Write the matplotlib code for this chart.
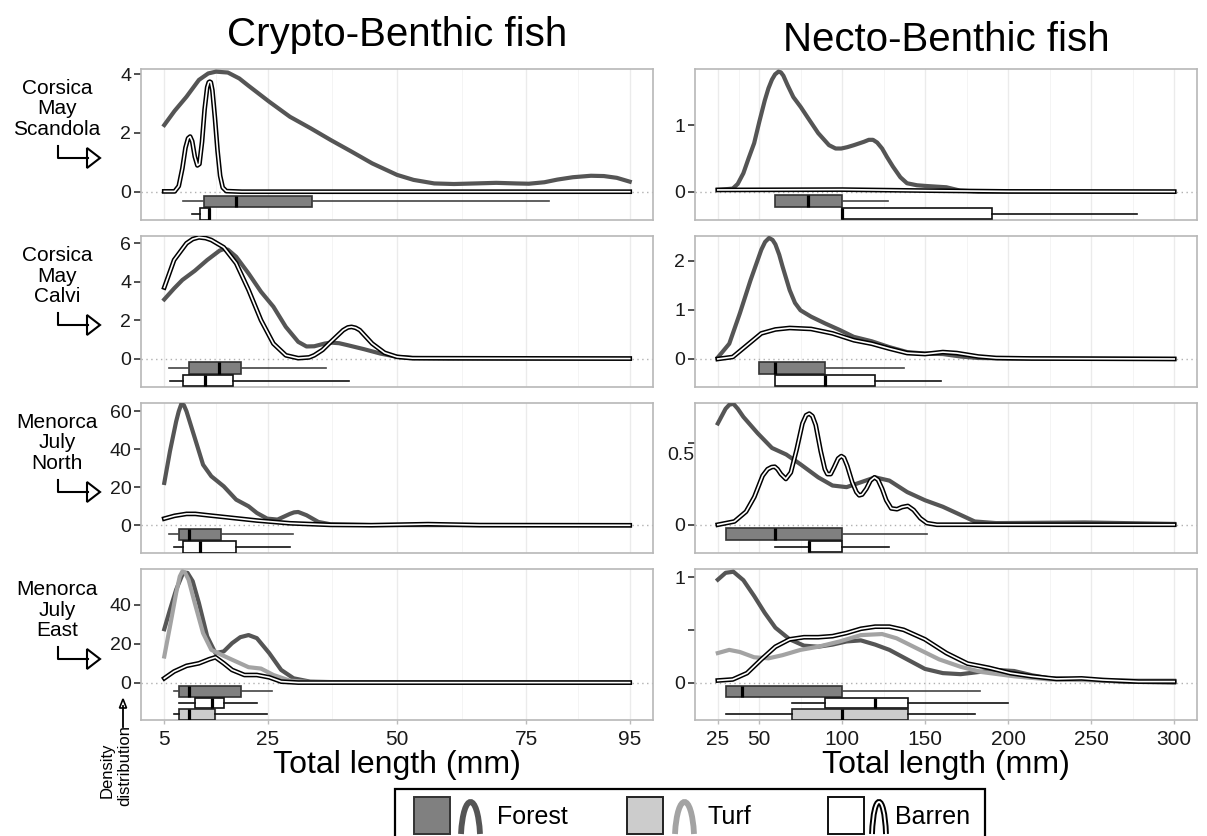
import matplotlib.pyplot as plt
from matplotlib.patches import Rectangle, Polygon, PathPatch
from matplotlib.path import Path
from matplotlib.lines import Line2D

plt.rcParams['font.family'] = ['Liberation Sans', 'DejaVu Sans']

# ---- data: (total length mm, density) ----
# Corsica May Scandola
scandola_cb_forest = [(5, 2.27), (7, 2.75), (9.3, 3.23), (11.7, 3.8), (13.5, 4.02), (15, 4.08), (17.3, 4.05),
                      (19.5, 3.85), (21.3, 3.6), (25.3, 3.06), (29.3, 2.55), (33.3, 2.16), (37.2, 1.76),
                      (41.2, 1.37), (45.2, 0.97), (50, 0.58), (53.2, 0.41), (57.2, 0.29), (61, 0.27),
                      (65.2, 0.29), (69.2, 0.31), (73, 0.29), (75.5, 0.28), (78.5, 0.33), (81, 0.42),
                      (84, 0.5), (87.5, 0.55), (90, 0.54), (92.5, 0.48), (95, 0.35)]
scandola_cb_barren = [(5, 0.02), (7, 0.02), (7.8, 0.2), (8.5, 0.8), (9.1, 1.5), (9.6, 1.82), (10, 1.88),
                      (10.4, 1.72), (10.9, 1.2), (11.4, 0.9), (11.8, 0.95), (12.3, 1.7), (12.8, 2.8),
                      (13.3, 3.55), (13.6, 3.72), (13.8, 3.74), (14.0, 3.72), (14.3, 3.45), (14.8, 2.5),
                      (15.3, 1.4), (15.8, 0.55), (16.3, 0.15), (17, 0.03), (20, 0.01), (95, 0.01)]
scandola_nb_forest = [(25, 0.03), (34, 0.05), (37, 0.12), (40.4, 0.28), (43.5, 0.5), (46.9, 0.73), (50, 1.05),
                      (53.3, 1.37), (55.5, 1.55), (57.6, 1.68), (59.5, 1.76), (61.5, 1.8), (63, 1.79),
                      (64.5, 1.74), (67, 1.6), (70.5, 1.42), (75, 1.27), (79, 1.12), (85.5, 0.88),
                      (92, 0.7), (96, 0.65), (99.4, 0.65), (103, 0.67), (107, 0.7), (113, 0.75),
                      (116, 0.78), (118.5, 0.78), (121, 0.74), (124, 0.65), (127, 0.52), (130.5, 0.38),
                      (135, 0.22), (139, 0.13), (145, 0.1), (150, 0.09), (162.7, 0.07), (171, 0.02),
                      (182, 0.005), (300, 0)]
scandola_nb_barren = [(25, 0.03), (100, 0.035), (150, 0.02), (200, 0.008), (300, 0.005)]

# Corsica May Calvi
calvi_cb_forest = [(5, 3.08), (6.9, 3.65), (8.5, 4.09), (10.9, 4.57), (13.3, 5.13), (15.7, 5.62), (16.5, 5.7),
                   (17.3, 5.67), (18.9, 5.3), (21.3, 4.43), (23.7, 3.48), (26.1, 2.7), (28.5, 1.65),
                   (30.9, 0.87), (32.5, 0.63), (34, 0.64), (36, 0.78), (37.2, 0.83), (38.8, 0.8),
                   (40.4, 0.7), (43.6, 0.49), (46.8, 0.26), (50, 0.09), (53, 0.03), (60, 0.01), (95, 0)]
calvi_cb_barren = [(5, 3.7), (6.9, 5.13), (9.3, 6.0), (10.5, 6.22), (11.7, 6.31), (13, 6.27), (14.1, 6.17),
                   (16.5, 5.79), (18.9, 4.96), (21.3, 3.57), (23.7, 2.0), (26.1, 0.78), (28.5, 0.17),
                   (30.9, 0.02), (33, 0.06), (34, 0.17), (35.6, 0.45), (37.2, 0.87), (39.6, 1.48),
                   (40.5, 1.62), (41.2, 1.65), (42, 1.6), (42.8, 1.48), (45.2, 0.78), (47.6, 0.3),
                   (50, 0.09), (53, 0.02), (95, 0)]
calvi_nb_forest = [(25, 0.03), (31.9, 0.31), (38.3, 0.93), (44.7, 1.6), (51.2, 2.22), (53.5, 2.38),
                   (55.9, 2.46), (58, 2.42), (59.7, 2.33), (62, 2.12), (64, 1.88), (68.3, 1.4), (71.5, 1.14),
                   (74.8, 0.99), (81.2, 0.86), (89.8, 0.72), (98.4, 0.59), (106.9, 0.45), (117.7, 0.36),
                   (128.4, 0.24), (139.1, 0.14), (149.8, 0.11), (160.6, 0.1), (171.3, 0.05), (182, 0.02),
                   (200, 0.01), (300, 0)]
calvi_nb_barren = [(25, 0.0), (34, 0.04), (42.6, 0.28), (51.2, 0.52), (59.7, 0.6), (68.3, 0.63), (81.2, 0.61),
                   (94.1, 0.52), (107, 0.38), (117.7, 0.31), (128.4, 0.21), (139.1, 0.12), (149.8, 0.1),
                   (160.6, 0.14), (169, 0.12), (182, 0.05), (192.7, 0.02), (214, 0.01), (300, 0)]

# Menorca July North
north_cb_forest = [(5, 22.3), (6.1, 39), (7.3, 54.7), (7.8, 60), (8.3, 63.9), (8.8, 63.2), (9.3, 60),
                   (10.9, 46), (12.5, 31.9), (14.1, 25.8), (16.5, 20.5), (18.9, 13.5), (21.3, 10),
                   (22.9, 6.5), (24.9, 3.5), (26.9, 3.0), (29.3, 6.0), (30.1, 6.8), (30.9, 7.0),
                   (32.5, 5.3), (34.8, 1.75), (37.2, 0.5), (45, 0.1), (95, 0)]
north_cb_barren = [(5, 3.5), (7, 5.0), (9.3, 6.0), (11, 6.0), (13.3, 5.3), (18.1, 3.9), (22.9, 2.5),
                   (29.3, 1.05), (37.2, 0.2), (45, 0.05), (52, 0.4), (56, 0.6), (60, 0.4), (66, 0.1), (95, 0)]
north_nb_forest = [(25, 0.62), (29.7, 0.71), (32, 0.735), (34.4, 0.74), (37, 0.71), (40.4, 0.66), (49, 0.56),
                   (57.6, 0.47), (66.2, 0.43), (74.8, 0.37), (85.5, 0.29), (94.1, 0.24), (102.6, 0.23),
                   (111.2, 0.26), (119.8, 0.29), (128.4, 0.27), (139.1, 0.2), (149.8, 0.15), (160.6, 0.11),
                   (171.3, 0.06), (179.8, 0.02), (192.7, 0.01), (246, 0.014), (300, 0.005)]
north_nb_barren = [(25, 0.0), (35, 0.02), (42, 0.08), (47, 0.17), (52, 0.3), (55, 0.34), (57.5, 0.353),
                   (59.3, 0.355), (61, 0.34), (63, 0.31), (66, 0.28), (69, 0.32), (72.5, 0.46), (76, 0.62),
                   (78.2, 0.67), (80.1, 0.68), (82, 0.665), (84, 0.61), (87, 0.45), (89.5, 0.34), (91, 0.31),
                   (93, 0.31), (95, 0.35), (97.5, 0.405), (99.4, 0.42), (101, 0.41), (103, 0.36),
                   (106, 0.26), (108.5, 0.2), (110.2, 0.18), (112, 0.185), (114.5, 0.22), (117, 0.27),
                   (119.4, 0.29), (121.5, 0.275), (124, 0.22), (126.5, 0.15), (129.5, 0.1), (133, 0.095),
                   (136, 0.108), (139.5, 0.115), (143, 0.09), (147, 0.04), (151, 0.01), (157, 0.0),
                   (300, 0.0)]

# Menorca July East
east_cb_forest = [(5, 27.4), (6.1, 37.4), (7.3, 47.7), (8.5, 55.4), (9.0, 56.4), (9.5, 56.3), (10.5, 52),
                  (11.7, 40.8), (13.3, 23.7), (14.9, 15.1), (16.5, 16), (18.1, 20.2), (19.7, 23.3),
                  (21.3, 24.4), (22.9, 22.8), (25.3, 15.1), (27.6, 6.5), (30, 2.2), (33.2, 0.5),
                  (40, 0.1), (95, 0)]
east_cb_turf = [(5, 13.4), (6.1, 28.8), (7.3, 46), (8.0, 54.5), (8.5, 57.1), (9.0, 56.5), (9.7, 52.8),
                (10.9, 40.8), (12.5, 25.4), (14.1, 16.8), (16.5, 13.7), (18.9, 10.8), (21.3, 7.9),
                (23.7, 7.2), (26.1, 3.9), (29.3, 1), (33, 0.3), (40, 0.05), (95, 0)]
east_cb_barren = [(5, 2.2), (6.9, 5.7), (9.3, 8.6), (11.7, 9.9), (13.7, 12.0), (14.9, 13.0), (16.5, 9.9),
                  (18.1, 6.5), (20.5, 3.9), (22.9, 3.9), (25.3, 2.7), (27.6, 0.5), (30.9, 0.0), (95, 0)]
east_nb_forest = [(25, 0.975), (29.7, 1.04), (34.4, 1.05), (40.4, 0.97), (46.9, 0.82), (53.3, 0.66),
                  (59.7, 0.52), (68.3, 0.41), (76.9, 0.35), (85.5, 0.34), (94.1, 0.36), (102.6, 0.39),
                  (111.2, 0.4), (119.8, 0.36), (128.4, 0.31), (139.1, 0.22), (149.8, 0.13), (160.6, 0.09),
                  (171.3, 0.08), (182, 0.1), (192.7, 0.12), (203.5, 0.11), (214.2, 0.07), (224.9, 0.04),
                  (246, 0.03), (267.5, 0.01), (300, 0.0)]
east_nb_turf = [(25, 0.28), (31.9, 0.31), (38.3, 0.29), (46.9, 0.24), (55.5, 0.23), (64, 0.26), (74.8, 0.31),
                (85.5, 0.34), (98.4, 0.39), (111.2, 0.45), (124, 0.46), (132.7, 0.42), (145.5, 0.32),
                (158.4, 0.22), (171.3, 0.15), (184.1, 0.1), (203.5, 0.06), (224.9, 0.03), (257, 0.02),
                (300, 0.02)]
east_nb_barren = [(25, 0.02), (34, 0.03), (42.6, 0.09), (51.2, 0.22), (59.7, 0.34), (68.3, 0.41),
                  (76.9, 0.43), (85.5, 0.43), (94.1, 0.44), (102.6, 0.47), (111.2, 0.51), (119.8, 0.53),
                  (128.4, 0.53), (137, 0.5), (149.8, 0.41), (162.7, 0.28), (175.5, 0.18), (188.4, 0.14),
                  (201.2, 0.09), (214.2, 0.06), (229, 0.035), (244.2, 0.04), (257, 0.025), (278.5, 0.01),
                  (300, 0.01)]

# boxplots: (whisker low, q1, median, q3, whisker high), listed top to bottom
scandola_cb_boxes = [('Forest', (8.7, 12.7, 18.9, 33.6, 79.4)), ('Barren', (10.3, 11.9, 13.7, 13.9, 13.9))]
scandola_nb_boxes = [('Forest', (59.7, 59.7, 79.5, 99.9, 127.7)), ('Barren', (100, 100, 100, 190, 277.5))]
calvi_cb_boxes = [('Forest', (6.0, 9.7, 15.5, 19.9, 36.2)), ('Barren', (6.1, 8.7, 12.9, 18.2, 40.8))]
calvi_nb_boxes = [('Forest', (49.7, 49.7, 59.7, 89.8, 137)), ('Barren', (59.7, 59.7, 89.8, 119.8, 159.5))]
north_cb_boxes = [('Forest', (6.0, 7.9, 9.8, 15.9, 29.9)), ('Barren', (6.9, 8.7, 11.9, 18.9, 29.3))]
north_nb_boxes = [('Forest', (29.7, 29.7, 59.7, 99.9, 150.9)), ('Barren', (59.7, 80.1, 80.1, 99.9, 128.4))]
east_cb_boxes = [('Forest', (6.9, 7.9, 9.8, 19.9, 25.9)), ('Barren', (7.9, 10.9, 14.3, 16.6, 23.0)),
                 ('Turf', (6.9, 7.9, 9.8, 14.9, 24.9))]
east_nb_boxes = [('Forest', (30.1, 30.1, 39.8, 99.9, 183.1)), ('Barren', (70, 89.8, 119.8, 139.8, 199.8)),
                 ('Turf', (30.1, 70, 99.9, 139.8, 179.8))]

row_labels = ['Corsica\nMay\nScandola', 'Corsica\nMay\nCalvi', 'Menorca\nJuly\nNorth', 'Menorca\nJuly\nEast']
col_titles = ['Crypto-Benthic fish', 'Necto-Benthic fish']
cb_xticks = [5, 25, 50, 75, 95]
nb_xticks = [25, 50, 100, 150, 200, 250, 300]

# (row, col, ylim, yticks, ytick labels, curves, boxes)
panels = [
    (0, 0, (-0.95, 4.17), [0, 2, 4], ['0', '2', '4'],
     {'Forest': scandola_cb_forest, 'Barren': scandola_cb_barren}, scandola_cb_boxes),
    (0, 1, (-0.42, 1.84), [0, 1], ['0', '1'],
     {'Forest': scandola_nb_forest, 'Barren': scandola_nb_barren}, scandola_nb_boxes),
    (1, 0, (-1.48, 6.38), [0, 2, 4, 6], ['0', '2', '4', '6'],
     {'Forest': calvi_cb_forest, 'Barren': calvi_cb_barren}, calvi_cb_boxes),
    (1, 1, (-0.57, 2.5), [0, 1, 2], ['0', '1', '2'],
     {'Forest': calvi_nb_forest, 'Barren': calvi_nb_barren}, calvi_nb_boxes),
    (2, 0, (-14.6, 64.4), [0, 20, 40, 60], ['0', '20', '40', '60'],
     {'Forest': north_cb_forest, 'Barren': north_cb_barren}, north_cb_boxes),
    (2, 1, (-0.173, 0.745), [0, 0.5], ['0', ''],
     {'Forest': north_nb_forest, 'Barren': north_nb_barren}, north_nb_boxes),
    (3, 0, (-19.2, 58.3), [0, 20, 40], ['0', '20', '40'],
     {'Forest': east_cb_forest, 'Turf': east_cb_turf, 'Barren': east_cb_barren}, east_cb_boxes),
    (3, 1, (-0.354, 1.076), [0, 0.5, 1], ['0', '', '1'],
     {'Forest': east_nb_forest, 'Turf': east_nb_turf, 'Barren': east_nb_barren}, east_nb_boxes),
]

line_col = {'Forest': '#555555', 'Turf': '#a3a3a3'}
box_fill = {'Forest': '#808080', 'Turf': '#cccccc', 'Barren': 'white'}
box_edge = {'Forest': '#333333', 'Turf': '#222222', 'Barren': '#111111'}
whisk_col = {'Forest': '#444444', 'Turf': '#111111', 'Barren': '#111111'}

W, H = 1207, 836
fig = plt.figure(figsize=(W / 100, H / 100), dpi=100)


def fx(x):
    return x / W


def fy(y):
    return 1 - y / H


col_x = [(141, 653), (695, 1197)]
row_y = [(69, 220), (236, 387), (403, 553), (569, 720)]
col_xlim = [(0.5, 99.5), (11.25, 313.75)]
col_minor = [[15, 37.5, 62.5, 85], [37.5, 75, 125, 175, 225, 275]]
col_ticks = [cb_xticks, nb_xticks]

for row, col, ylim, yt, ytl, curves, boxes in panels:
    l, r = col_x[col]
    t, b = row_y[row]
    ax = fig.add_axes([fx(l), fy(b), fx(r - l), (b - t) / H])
    ax.set_xlim(*col_xlim[col])
    ax.set_ylim(*ylim)
    ax.set_xticks(col_ticks[col])
    ax.set_xticks(col_minor[col], minor=True)
    ax.grid(axis='x', which='major', color='#ebebeb', lw=1.0, zorder=0)
    ax.grid(axis='x', which='minor', color='#f2f2f2', lw=0.6, zorder=0)
    ax.set_axisbelow(True)
    ax.set_yticks(yt)
    ax.set_yticklabels(ytl)
    ax.tick_params(axis='y', length=5, width=1.2, color='#333333', pad=2, labelsize=14, labelcolor='#1a1a1a')
    ax.tick_params(axis='x', which='minor', length=0)
    if row == 3:
        ax.tick_params(axis='x', which='major', length=3, width=1.0, color='#bbbbbb', pad=4,
                       labelsize=15, labelcolor='#1a1a1a')
    else:
        ax.tick_params(axis='x', which='major', length=0, labelbottom=False)
    for s in ax.spines.values():
        s.set_color('#b8b8b8')
        s.set_linewidth(1.2)

    ax.axhline(0, color='#b0b0b0', lw=1.0, ls=(0, (1, 2.5)), zorder=1)

    for hab in ['Forest', 'Turf', 'Barren']:
        if hab not in curves:
            continue
        xs, ys = zip(*curves[hab])
        if hab == 'Barren':
            ax.plot(xs, ys, color='black', lw=3.4, solid_joinstyle='round', zorder=4)
            ax.plot(xs, ys, color='white', lw=1.2, solid_joinstyle='round', zorder=4.1)
        else:
            ax.plot(xs, ys, color=line_col[hab], lw=3.0, solid_joinstyle='round', zorder=3)

    # boxes stacked below zero
    span = ylim[1] - ylim[0]
    gap = 0.02 * span
    slot = (-ylim[0] - gap) / len(boxes)
    for i, (hab, (lo, q1, med, q3, hi)) in enumerate(boxes):
        pos = -gap - (i + 0.5) * slot
        st = [dict(whislo=lo, q1=q1, med=med, q3=q3, whishi=hi, fliers=[])]
        ax.bxp(st, positions=[pos], widths=slot * 0.92, orientation='horizontal', patch_artist=True,
               showcaps=False, showfliers=False, manage_ticks=False,
               boxprops=dict(facecolor=box_fill[hab], edgecolor=box_edge[hab], lw=1.2),
               medianprops=dict(color='black', lw=2.3, solid_capstyle='butt'),
               whiskerprops=dict(color=whisk_col[hab], lw=1.2), zorder=5)

    if row == 2 and col == 1:
        ax.annotate('0.5', xy=(0, 0.5), xycoords=('axes fraction', 'data'), xytext=(-1, -12),
                    textcoords='offset pixels', ha='right', va='center', fontsize=14, color='#1a1a1a')

# column titles and x labels
title_y = [46, 51]
for c in range(2):
    l, r = col_x[c]
    fig.text(fx((l + r) / 2), fy(title_y[c]), col_titles[c], ha='center', va='baseline', fontsize=29)
    fig.text(fx((l + r) / 2), fy(765), 'Total length (mm)', ha='center', va='center', fontsize=23)

# row labels with bent arrows
for i, lab in enumerate(row_labels):
    dy = 167 * i
    fig.text(fx(57), fy(109 + dy), lab, ha='center', va='center', fontsize=15, linespacing=1.12)
    fig.add_artist(Line2D([fx(58), fx(58), fx(88)], [fy(146 + dy), fy(158 + dy), fy(158 + dy)],
                          transform=fig.transFigure, color='black', lw=1.5))
    fig.add_artist(Polygon([(fx(87), fy(148 + dy)), (fx(100), fy(158 + dy)), (fx(87), fy(168 + dy))],
                           closed=True, transform=fig.transFigure, facecolor='white',
                           edgecolor='black', lw=1.5))

# density distribution note
fig.text(fx(107), fy(770), 'Density', rotation=90, ha='center', va='center', fontsize=12)
fig.text(fx(125), fy(766), 'distribution', rotation=90, ha='center', va='center', fontsize=12)
fig.add_artist(Line2D([fx(123), fx(123)], [fy(727), fy(706)], transform=fig.transFigure, color='black', lw=1.3))
fig.add_artist(Polygon([(fx(119.5), fy(708)), (fx(123), fy(699)), (fx(126.5), fy(708))], closed=True,
                       transform=fig.transFigure, facecolor='white', edgecolor='black', lw=1.2))

# legend drawn by hand
fig.add_artist(Rectangle((fx(395), fy(860)), fx(590), (860 - 789) / H, transform=fig.transFigure,
                         facecolor='white', edgecolor='black', lw=1.6))


def arch(x0, x1, ytop, ybot, color, lw):
    w = x1 - x0
    yc = (ytop - ybot / 4) * 4 / 3
    verts = [(x0, ybot), (x0 + 0.12 * w, yc), (x1 - 0.12 * w, yc), (x1, ybot)]
    path = Path([(fx(x), fy(y)) for x, y in verts], [Path.MOVETO, Path.CURVE4, Path.CURVE4, Path.CURVE4])
    fig.add_artist(PathPatch(path, transform=fig.transFigure, facecolor='none', edgecolor=color, lw=lw,
                             capstyle='butt'))


legend_items = [('Forest', 414, 461, 497), ('Turf', 627, 675, 708), ('Barren', 828, 872, 895)]
for hab, sq, ax0, tx in legend_items:
    fig.add_artist(Rectangle((fx(sq), fy(834)), fx(36), 37 / H, transform=fig.transFigure,
                             facecolor=box_fill[hab], edgecolor=box_edge[hab], lw=1.4))
    if hab == 'Barren':
        arch(ax0, ax0 + 14, 802, 834, 'black', 4.2)
        arch(ax0, ax0 + 14, 802, 834, 'white', 1.4)
    else:
        arch(ax0, ax0 + 19, 802, 834, line_col[hab], 4.2)
    fig.text(fx(tx), fy(817), hab, ha='left', va='center', fontsize=18)

fig.savefig('out.png', dpi=100)
